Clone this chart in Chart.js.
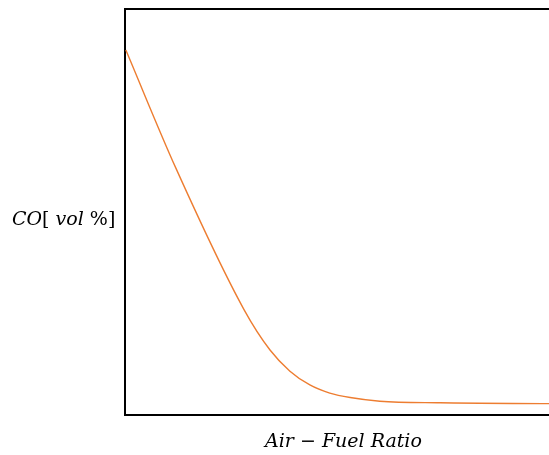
<!DOCTYPE html>
<html>
<head>
<meta charset="utf-8">
<script src="https://cdn.jsdelivr.net/npm/chart.js@4"></script>
<style>
  body { margin: 0; background: #fff; }
  #wrap { width: 549px; height: 455px; position: relative; }
</style>
</head>
<body>
<div id="wrap"><canvas id="myChart"></canvas></div>
<script>
const ctx = document.getElementById("myChart");

// air-fuel ratio (relative, 0..100) and CO (relative, 0..100)
const ratio = [0.2, 12.0, 28.1, 34.2, 38.9, 43.6, 48.3, 53.1, 60.1, 74.3, 100];
const co = [89.9, 60.8, 25.9, 16.0, 10.8, 7.4, 5.4, 4.3, 3.4, 3.0, 2.8];

// label pieces: [text, italic?]
const yTitle = [["CO", true], ["[ ", false], ["vol", true], [" %]", false]];
const xTitle = [["Air", true], [" − ", false], ["Fuel Ratio", true]];

const puntos = ratio.map((r, i) => ({ x: r, y: co[i] }));

const escribir = (c, piezas, x, y) => {
  piezas.forEach(([t, it]) => {
    c.font = (it ? "italic " : "") + "19px 'DejaVu Serif'";
    c.fillText(t, x, y);
    x += c.measureText(t).width;
  });
};

// top frame line + axis labels
const marco = {
  id: "marco",
  afterDraw(chart) {
    const c = chart.ctx;
    const a = chart.chartArea;
    c.save();
    c.strokeStyle = "#000";
    c.lineWidth = 2;
    c.beginPath();
    c.moveTo(a.left - 1, a.top);
    c.lineTo(a.right, a.top);
    c.stroke();

    c.fillStyle = "#000";
    c.textBaseline = "alphabetic";
    escribir(c, yTitle, 12, 225);
    escribir(c, xTitle, 265, 447);
    c.restore();
  },
};

new Chart(ctx, {
  type: "scatter",
  data: {
    datasets: [
      {
        data: puntos,
        showLine: true,
        borderColor: "#ED7D31",
        borderWidth: 1.4,
        pointRadius: 0,
        cubicInterpolationMode: "monotone",
      },
    ],
  },
  options: {
    responsive: true,
    maintainAspectRatio: false,
    animation: false,
    layout: { padding: { left: 117, top: 9, right: 0, bottom: 32 } },
    plugins: { legend: { display: false }, tooltip: { enabled: false } },
    scales: {
      x: {
        min: 0,
        max: 100,
        ticks: { display: false },
        grid: { display: false },
        border: { color: "#000", width: 2 },
      },
      y: {
        min: 0,
        max: 100,
        ticks: { display: false },
        grid: { display: false },
        border: { color: "#000", width: 2 },
      },
    },
  },
  plugins: [marco],
});
</script>
</body>
</html>
